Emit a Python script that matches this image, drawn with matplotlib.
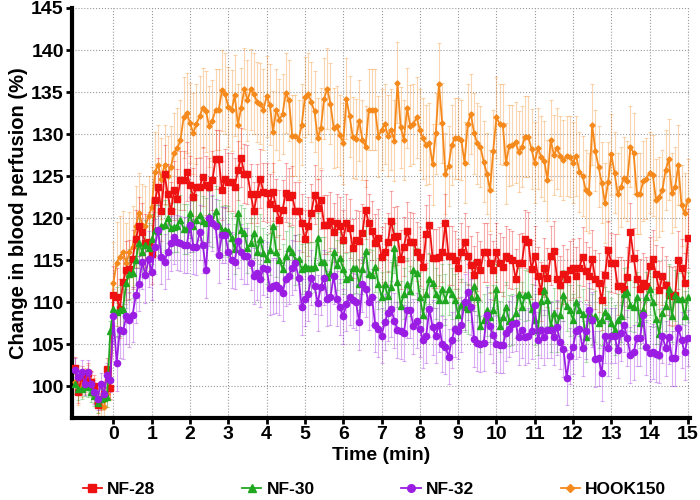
import numpy as np
import matplotlib
matplotlib.use("Agg")
import matplotlib.pyplot as plt
from matplotlib.lines import Line2D

plt.rcParams['font.family'] = ['Liberation Sans', 'DejaVu Sans']
plt.rcParams['font.weight'] = 'bold'

# sampling every 5 s, from -1 min to 15 min
time_min = np.arange(-12, 181) / 12.0

nf28 = [102.2, 99.3, 101.1, 100.6, 101.5, 100.5, 100.0, 97.7, 98.5, 99.0, 102.0, 99.8,
        110.8, 110.6, 109.2, 112.4, 113.8, 113.9, 115.1, 117.5, 119.0, 118.3, 117.0, 117.2,
        115.7, 122.1, 123.7, 120.8, 125.2, 122.9, 120.8, 123.3, 122.3, 124.5, 124.5, 125.5,
        123.9, 122.5, 123.7, 123.7, 124.9, 123.9, 123.7, 124.5, 127.0, 127.0, 123.3, 124.7,
        124.3, 124.3, 123.7, 125.7, 127.2, 125.3, 125.2, 122.9, 120.8, 122.9, 124.7, 123.1,
        123.0, 121.7, 123.1, 121.2, 119.8, 121.0, 123.0, 122.5, 122.7, 120.8, 120.8, 119.4,
        117.5, 119.0, 120.6, 122.8, 121.2, 122.2, 119.2, 119.2, 119.6, 118.3, 119.4, 119.0,
        117.4, 119.4, 118.8, 116.4, 117.4, 117.3, 118.2, 121.0, 119.4, 118.5, 117.0, 117.6,
        115.4, 115.9, 117.1, 119.7, 117.8, 117.9, 115.1, 116.6, 118.4, 117.2, 117.1, 116.0,
        115.4, 114.2, 118.1, 119.2, 115.2, 115.2, 115.4, 115.9, 119.4, 115.5, 115.5, 115.0,
        114.0, 115.9, 117.1, 115.5, 114.4, 113.2, 114.8, 113.8, 115.9, 115.9, 114.6, 113.8,
        115.9, 114.7, 114.2, 115.5, 115.2, 115.0, 112.8, 114.6, 114.7, 117.5, 117.2, 113.9,
        115.5, 113.1, 111.3, 114.1, 112.9, 115.5, 116.1, 112.8, 112.0, 113.3, 112.8, 113.8,
        114.0, 113.1, 114.1, 115.4, 113.7, 113.1, 115.1, 112.7, 112.3, 110.2, 113.2, 116.2,
        114.7, 114.6, 111.9, 111.9, 111.5, 113.0, 118.3, 115.3, 112.7, 111.6, 112.3, 111.9,
        114.3, 115.1, 113.3, 111.4, 113.1, 112.0, 110.8, 110.7, 110.8, 115.0, 114.0, 112.3, 117.6]

nf30 = [100.2, 99.6, 99.7, 100.0, 99.9, 99.3, 98.8, 98.0, 98.5, 98.6, 98.7, 106.5,
        109.2, 108.8, 109.0, 109.2, 112.3, 113.3, 113.5, 115.0, 117.0, 116.0, 116.8, 116.4,
        117.5, 118.6, 118.5, 119.0, 119.2, 120.0, 118.8, 118.9, 119.0, 119.8, 118.7, 118.7,
        120.6, 119.0, 119.8, 120.4, 119.6, 119.4, 120.2, 119.6, 120.8, 119.2, 118.4, 118.6,
        118.4, 117.6, 116.3, 120.6, 118.6, 118.2, 116.4, 117.0, 118.2, 116.0, 117.5, 115.8,
        115.1, 116.2, 119.0, 116.0, 115.0, 113.9, 115.5, 116.4, 115.9, 115.0, 115.1, 113.9,
        114.3, 114.0, 114.1, 114.2, 117.6, 114.8, 114.8, 113.0, 113.4, 115.9, 114.4, 115.3,
        113.9, 112.8, 113.0, 114.0, 114.1, 112.1, 113.9, 116.1, 113.3, 113.2, 114.2, 112.2,
        110.6, 112.1, 110.7, 111.8, 116.4, 112.4, 109.5, 111.0, 112.2, 111.3, 113.8, 113.4,
        110.6, 108.5, 111.0, 112.8, 112.3, 111.0, 110.2, 111.5, 110.3, 111.5, 111.0, 110.3,
        108.5, 109.7, 109.4, 109.2, 110.6, 111.9, 110.6, 107.1, 107.9, 109.0, 108.2, 109.0,
        111.5, 107.1, 108.2, 109.4, 107.8, 107.9, 108.7, 111.0, 109.4, 110.8, 110.9, 109.2,
        107.9, 106.7, 110.1, 111.4, 110.2, 107.1, 108.7, 107.1, 108.5, 110.8, 109.5, 109.0,
        107.9, 110.0, 109.0, 108.6, 105.9, 108.7, 107.9, 108.3, 107.5, 107.9, 108.8, 108.3,
        107.5, 106.7, 107.9, 108.3, 111.0, 111.2, 109.6, 109.4, 110.6, 107.5, 109.1, 110.6,
        111.5, 110.0, 108.0, 106.2, 108.7, 109.5, 111.5, 108.3, 110.8, 110.4, 110.4, 108.3, 110.6]

nf32 = [101.9, 101.1, 101.7, 100.3, 101.7, 100.3, 99.3, 98.5, 100.2, 99.1, 101.3, 100.7,
        108.3, 102.7, 106.7, 106.5, 108.3, 107.9, 108.5, 110.8, 112.2, 114.8, 113.2, 115.1,
        113.6, 116.6, 118.6, 115.4, 114.8, 116.0, 117.0, 117.8, 117.1, 117.0, 116.8, 116.8,
        119.2, 116.6, 116.5, 118.3, 116.8, 113.8, 120.0, 119.4, 119.0, 115.6, 118.0, 118.0,
        116.0, 115.0, 114.8, 117.3, 116.0, 115.5, 115.5, 114.7, 113.1, 113.5, 112.7, 114.1,
        113.9, 111.7, 111.9, 112.0, 111.7, 111.1, 112.8, 113.1, 114.1, 114.7, 112.9, 109.4,
        110.4, 111.0, 112.9, 111.9, 109.9, 111.8, 112.9, 110.4, 110.6, 113.1, 110.4, 109.4,
        108.3, 109.8, 110.6, 110.2, 110.0, 107.6, 112.1, 111.5, 110.0, 110.6, 107.3, 106.8,
        106.0, 107.6, 108.7, 109.2, 107.8, 106.7, 106.5, 106.3, 109.0, 109.0, 107.1, 107.8,
        106.8, 105.5, 106.0, 109.2, 107.0, 106.0, 107.3, 105.0, 104.7, 103.5, 105.5, 106.8,
        106.5, 107.3, 110.0, 111.2, 109.4, 105.6, 105.1, 105.0, 105.1, 108.5, 107.1, 106.1,
        105.0, 104.9, 104.9, 106.3, 106.8, 107.4, 107.5, 105.8, 106.7, 105.8, 106.0, 106.5,
        109.6, 105.5, 106.7, 105.8, 106.7, 106.7, 105.8, 107.0, 105.3, 104.4, 101.0, 103.6,
        104.7, 106.5, 106.8, 104.5, 106.5, 109.0, 107.9, 103.2, 103.3, 101.5, 106.0, 104.5,
        106.0, 106.0, 104.3, 106.3, 107.3, 105.7, 103.7, 104.0, 105.7, 105.7, 108.4, 104.6,
        103.9, 104.1, 103.8, 103.7, 106.0, 104.5, 105.9, 103.3, 103.3, 106.9, 105.5, 104.0, 105.7]

hook150 = [100.5, 99.3, 100.2, 100.6, 101.0, 100.3, 99.5, 98.3, 97.6, 97.5, 99.0, 99.8,
           112.3, 114.7, 115.4, 116.0, 114.6, 115.9, 116.6, 119.0, 120.6, 119.2, 119.0, 120.2,
           121.3, 125.5, 126.3, 124.7, 126.3, 125.0, 126.1, 127.7, 128.3, 129.3, 132.0, 132.5,
           131.3, 130.1, 131.2, 132.1, 133.1, 132.7, 130.9, 131.6, 132.9, 132.9, 135.2, 134.8,
           133.2, 132.8, 134.6, 131.1, 133.1, 135.4, 134.0, 135.3, 134.8, 133.8, 133.6, 132.9,
           134.5, 133.5, 130.3, 132.9, 131.7, 132.4, 134.9, 134.0, 129.8, 129.8, 129.3, 131.1,
           134.4, 134.8, 133.8, 132.7, 129.5, 130.7, 134.2, 135.4, 133.6, 130.7, 130.9, 129.9,
           128.9, 134.2, 132.1, 129.6, 129.4, 131.6, 129.3, 128.5, 132.9, 132.9, 132.9, 129.7,
           130.5, 131.2, 129.8, 130.5, 129.2, 136.1, 130.8, 129.3, 133.1, 131.0, 131.2, 132.0,
           130.5, 129.5, 128.7, 128.9, 126.4, 130.1, 136.0, 131.3, 125.3, 126.2, 128.7, 129.5,
           129.5, 129.3, 126.6, 131.2, 132.4, 130.1, 128.9, 128.5, 126.7, 125.3, 123.3, 128.0,
           132.0, 131.2, 131.1, 126.5, 128.6, 128.7, 129.0, 127.9, 128.5, 129.7, 129.7, 128.2,
           126.6, 128.3, 127.3, 126.8, 124.5, 129.3, 127.5, 128.3, 127.4, 126.9, 127.4, 127.3,
           126.6, 127.4, 125.5, 125.0, 123.3, 123.0, 131.1, 128.0, 126.1, 124.2, 121.8, 124.3,
           127.6, 125.4, 122.9, 123.7, 124.8, 124.4, 128.5, 127.7, 122.9, 122.9, 124.4, 124.7,
           125.4, 125.1, 122.2, 122.5, 123.3, 125.7, 127.0, 123.0, 123.7, 126.3, 121.5, 120.6, 122.2]

# approximate SEM (baseline / after stimulus)
sem_base = [1.3, 1.2, 1.4, 1.5]
sem_resp = [3.5, 3.0, 3.3, 4.8]

labels = ['NF-28', 'NF-30', 'NF-32', 'HOOK150']
colors = ['#ee1111', '#1fa81f', '#9b1de3', '#f5891c']
markers = ['s', '^', 'o', 'D']
msizes = [4.5, 4.5, 4.5, 2.6]

fig = plt.figure(figsize=(7, 5), dpi=100)
ax = fig.add_axes([0.103, 0.164, 0.883, 0.82])

series = [nf28, nf30, nf32, hook150]
order = [3, 0, 1, 2]  # draw orange first
for k in order:
    y = np.array(series[k])
    err = np.where(time_min < 0, sem_base[k], sem_resp[k])
    ax.errorbar(time_min, y, yerr=err, fmt='none', ecolor=colors[k], alpha=0.35,
                elinewidth=0.8, capsize=1.5, capthick=0.8, zorder=2)
    ax.plot(time_min, y, marker=markers[k], color=colors[k], lw=1.3,
            ms=msizes[k], mec=colors[k], zorder=3)

ax.set_xlim(-1.08, 15.06)
ax.set_ylim(96.2, 145)
ax.set_xticks(np.arange(0, 16))
ax.set_yticks(np.arange(100, 146, 5))
ax.grid(True, color='#999999', linestyle=':', linewidth=0.8)
ax.set_axisbelow(True)
for s in ['top', 'right']:
    ax.spines[s].set_visible(False)
for s in ['left', 'bottom']:
    ax.spines[s].set_linewidth(3)
ax.tick_params(axis='both', width=2, length=4, labelsize=14, direction='out', pad=2)
for lab in ax.get_xticklabels() + ax.get_yticklabels():
    lab.set_fontweight('bold')

ax.set_xlabel('Time (min)', fontsize=14, fontweight='bold', labelpad=3)
ax.set_ylabel('Change in blood perfusion (%)', fontsize=14.5, fontweight='bold', labelpad=2)

handles = [Line2D([0], [0], color=colors[k], marker=markers[k], ms=msizes[k] + 1, lw=1.3)
           for k in range(4)]
fig.legend(handles, labels, loc='lower center', bbox_to_anchor=(0.535, -0.025), ncol=4,
           frameon=False, columnspacing=5.0, handlelength=1.1, handletextpad=0.3,
           prop={'weight': 'bold', 'size': 12.5})

fig.savefig('out.png', dpi=100)
